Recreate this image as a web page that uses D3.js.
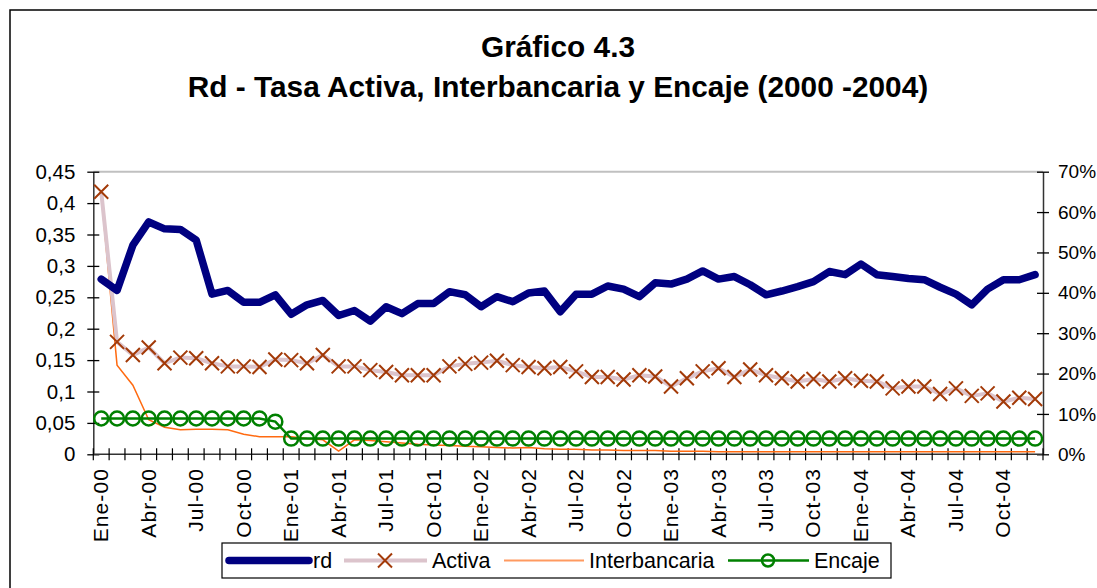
<!DOCTYPE html>
<html><head><meta charset="utf-8">
<script src="https://cdn.jsdelivr.net/npm/d3@7/dist/d3.min.js"></script>
<style>
html,body{margin:0;padding:0;background:#fff;}
svg{display:block;font-family:"Liberation Sans",Arial,sans-serif;}
</style></head>
<body>
<svg id="chart" width="1097" height="588"></svg>
<script>
const monthNames = ["Ene","Feb","Mar","Abr","May","Jun","Jul","Ago","Sep","Oct","Nov","Dic"];
const years = ["00","01","02","03","04"];
const categories = [];
years.forEach(y => monthNames.forEach(m => categories.push(m + "-" + y)));

const rd = [0.279,0.261,0.333,0.370,0.359,0.358,0.341,0.255,0.261,0.242,0.242,0.254,
  0.223,0.238,0.245,0.221,0.229,0.212,0.235,0.224,0.240,0.240,0.259,0.254,
  0.235,0.251,0.243,0.257,0.260,0.227,0.255,0.255,0.268,0.263,0.251,0.273,
  0.271,0.279,0.292,0.279,0.283,0.270,0.254,0.260,0.267,0.275,0.291,0.286,
  0.303,0.286,0.283,0.280,0.278,0.266,0.255,0.238,0.263,0.278,0.278,0.286];
const activa = [0.418,0.179,0.158,0.170,0.145,0.154,0.153,0.145,0.140,0.140,0.139,0.151,
  0.150,0.145,0.158,0.140,0.140,0.134,0.131,0.126,0.126,0.126,0.140,0.144,
  0.146,0.149,0.142,0.139,0.137,0.139,0.132,0.123,0.123,0.119,0.126,0.124,
  0.108,0.121,0.132,0.137,0.123,0.135,0.126,0.121,0.116,0.120,0.116,0.121,
  0.117,0.116,0.105,0.108,0.108,0.096,0.105,0.093,0.097,0.084,0.090,0.088];
const interbancaria = [0.415,0.142,0.110,0.055,0.043,0.039,0.040,0.040,0.039,0.032,0.028,0.028,
  0.028,0.025,0.023,0.005,0.023,0.022,0.020,0.018,0.016,0.015,0.014,0.013,
  0.012,0.011,0.010,0.011,0.009,0.008,0.008,0.007,0.007,0.006,0.006,0.006,
  0.005,0.005,0.005,0.004,0.004,0.004,0.004,0.004,0.004,0.004,0.004,0.004,
  0.004,0.004,0.004,0.004,0.004,0.004,0.004,0.004,0.004,0.004,0.004,0.004];
const encaje = [0.057,0.057,0.057,0.057,0.057,0.057,0.057,0.057,0.057,0.057,0.057,0.052,
  0.025,0.025,0.025,0.025,0.025,0.025,0.025,0.025,0.025,0.025,0.025,0.025,
  0.025,0.025,0.025,0.025,0.025,0.025,0.025,0.025,0.025,0.025,0.025,0.025,
  0.025,0.025,0.025,0.025,0.025,0.025,0.025,0.025,0.025,0.025,0.025,0.025,
  0.025,0.025,0.025,0.025,0.025,0.025,0.025,0.025,0.025,0.025,0.025,0.025];
const leftTicks = [0,0.05,0.1,0.15,0.2,0.25,0.3,0.35,0.4,0.45];
const rightTicks = [0,0.1,0.2,0.3,0.4,0.5,0.6,0.7];
const title1 = "Gráfico 4.3";
const title2 = "Rd - Tasa Activa, Interbancaria y Encaje (2000 -2004)";
const seriesNames = ["rd","Activa","Interbancaria","Encaje"];

const svg = d3.select("#chart");
const L = 93.3, R = 1043, T = 171.7, B = 454.3;

// outer frame
svg.append("rect").attr("x",10).attr("y",10).attr("width",1200).attr("height",700)
  .attr("fill","none").attr("stroke","#000").attr("stroke-width",1.5);

svg.append("text").attr("x",558).attr("y",57).attr("text-anchor","middle")
  .attr("font-size",29.8).attr("font-weight","bold").text(title1);
svg.append("text").attr("x",558).attr("y",97).attr("text-anchor","middle")
  .attr("font-size",29.8).attr("font-weight","bold").text(title2);

const x = d3.scaleBand().domain(d3.range(categories.length)).range([L,R]).padding(0);
const cx = i => x(i) + x.bandwidth()/2;
const yL = d3.scaleLinear().domain([0,0.45]).range([B,T]);
const yR = d3.scaleLinear().domain([0,0.7]).range([B,T]);

const loc = d3.formatLocale({decimal:",",thousands:".",grouping:[3],currency:["$",""]});
const fL = d => loc.format("~")(+d.toFixed(2));
const fR = d3.format(".0%");

// top plot border (gray)
svg.append("line").attr("x1",L).attr("x2",R).attr("y1",T).attr("y2",T)
  .attr("stroke","#c0c0c0").attr("stroke-width",2);

// left axis
const gL = svg.append("g").attr("transform",`translate(${L},0)`)
  .call(d3.axisLeft(yL).tickValues(leftTicks).tickFormat(fL).tickSizeInner(6).tickSizeOuter(0).tickPadding(12));
gL.selectAll(".tick line").attr("x1",6).attr("x2",-6);
// right axis
const gR = svg.append("g").attr("transform",`translate(${R},0)`)
  .call(d3.axisRight(yR).tickValues(rightTicks).tickFormat(fR).tickSizeInner(6).tickSizeOuter(0).tickPadding(9));
gR.selectAll(".tick line").attr("x1",-6).attr("x2",6);
[gL,gR].forEach(g=>{
  g.select(".domain").attr("stroke","#333").attr("stroke-width",1.5);
  g.selectAll(".tick line").attr("stroke","#000").attr("stroke-width",1.3);
  g.selectAll(".tick text").attr("font-size",20.5).attr("fill","#000").attr("font-family","Liberation Sans, Arial, sans-serif");
});
gR.selectAll(".tick text").attr("font-size",19);

// x axis
const boundaries = d3.range(categories.length+1);
const gX = svg.append("g");
gX.append("line").attr("x1",L).attr("x2",R).attr("y1",B).attr("y2",B).attr("stroke","#333").attr("stroke-width",1.5);
gX.selectAll("line.t").data(boundaries).join("line").attr("class","t")
  .attr("x1",i=> i<categories.length ? x(i) : R).attr("x2",i=> i<categories.length ? x(i) : R)
  .attr("y1",B-6).attr("y2",B+6).attr("stroke","#000").attr("stroke-width",1.2);
gX.selectAll("text").data(categories.map((c,i)=>({c,i})).filter(d=>d.i%3===0)).join("text")
  .attr("transform",d=>`translate(${cx(d.i)+7},468) rotate(-90)`)
  .attr("text-anchor","end").attr("font-size",21).attr("letter-spacing","1.1px").text(d=>d.c);

const line = d3.line().x((d,i)=>cx(i)).y(d=>yL(d));

// Interbancaria
svg.append("path").datum(interbancaria).attr("d",line).attr("fill","none")
  .attr("stroke","#ff6a10").attr("stroke-width",1.5);
// Activa
svg.append("path").datum(activa).attr("d",line).attr("fill","none")
  .attr("stroke","#dcc4cc").attr("stroke-width",4).attr("stroke-linejoin","round");
const xMark = (g, px, py, s) => {
  g.append("path").attr("d",`M${px-s},${py-s}L${px+s},${py+s}M${px-s},${py+s}L${px+s},${py-s}`)
    .attr("stroke","#a33a08").attr("stroke-width",2).attr("fill","none");
};
const gA = svg.append("g");
activa.forEach((v,i)=>xMark(gA,cx(i),yL(v),7));
// Encaje
svg.append("path").datum(encaje).attr("d",line).attr("fill","none")
  .attr("stroke","#008000").attr("stroke-width",2.5);
svg.append("g").selectAll("circle").data(encaje).join("circle")
  .attr("cx",(d,i)=>cx(i)).attr("cy",d=>yL(d)).attr("r",7)
  .attr("fill","none").attr("stroke","#008000").attr("stroke-width",2.5);
// rd
svg.append("path").datum(rd).attr("d",line).attr("fill","none")
  .attr("stroke","#000080").attr("stroke-width",7.5).attr("stroke-linejoin","round").attr("stroke-linecap","round");

// legend
const lg = svg.append("g");
lg.append("rect").attr("x",222).attr("y",543).attr("width",669).attr("height",35)
  .attr("fill","#fff").attr("stroke","#000").attr("stroke-width",1.2);
const ly = 560.5;
lg.append("line").attr("x1",229).attr("x2",309).attr("y1",ly).attr("y2",ly)
  .attr("stroke","#000080").attr("stroke-width",7.5).attr("stroke-linecap","round");
lg.append("text").attr("x",313).attr("y",ly+7.5).attr("font-size",21.5).text(seriesNames[0]);
lg.append("line").attr("x1",344).attr("x2",427).attr("y1",ly).attr("y2",ly)
  .attr("stroke","#dcc4cc").attr("stroke-width",4);
xMark(lg,385,ly,7);
lg.append("text").attr("x",432).attr("y",ly+7.5).attr("font-size",21.5).text(seriesNames[1]);
lg.append("line").attr("x1",504).attr("x2",584).attr("y1",ly).attr("y2",ly)
  .attr("stroke","#ff9a60").attr("stroke-width",2);
lg.append("text").attr("x",589).attr("y",ly+7.5).attr("font-size",21.5).text(seriesNames[2]);
lg.append("line").attr("x1",728).attr("x2",809).attr("y1",ly).attr("y2",ly)
  .attr("stroke","#008000").attr("stroke-width",2.5);
lg.append("circle").attr("cx",768).attr("cy",ly).attr("r",6).attr("fill","none")
  .attr("stroke","#008000").attr("stroke-width",2.5);
lg.append("text").attr("x",814).attr("y",ly+7.5).attr("font-size",21.5).text(seriesNames[3]);
</script>
</body></html>
